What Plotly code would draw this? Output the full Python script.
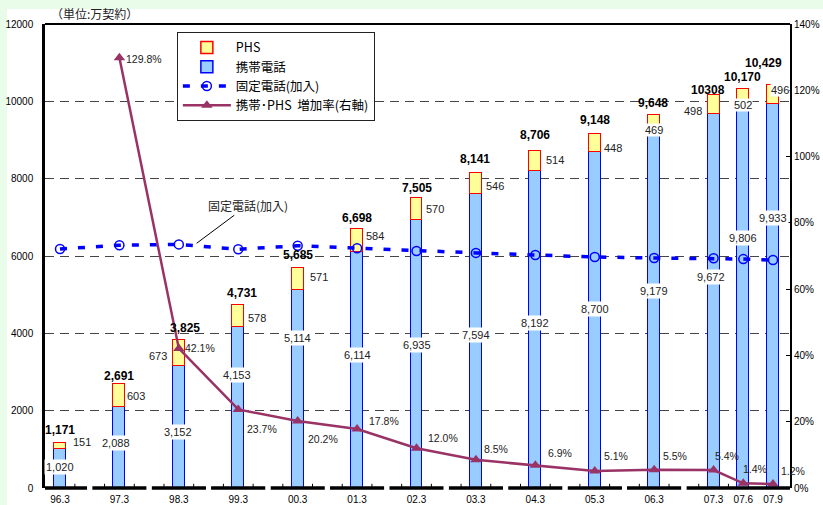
import plotly.graph_objects as go

# ---------------- data ----------------
periods = ["96.3", "97.3", "98.3", "99.3", "00.3", "01.3", "02.3", "03.3",
           "04.3", "05.3", "06.3", "07.3", "07.6", "07.9"]
mobile = [1020, 2088, 3152, 4153, 5114, 6114, 6935, 7594, 8192, 8700, 9179, 9672, 9806, 9933]
phs = [151, 603, 673, 578, 571, 584, 570, 546, 514, 448, 469, 498, 502, 496]
total_labels = ["1,171", "2,691", "3,825", "4,731", "5,685", "6,698", "7,505", "8,141",
                "8,706", "9,148", "9,648", "10308", "10,170", "10,429"]
fixed = [6180, 6280, 6300, 6175, 6265, 6200, 6130, 6080, 6025, 5975, 5950, 5940, 5920, 5895]
growth = [None, 129.8, 42.1, 23.7, 20.2, 17.8, 12.0, 8.5, 6.9, 5.1, 5.5, 5.4, 1.4, 1.2]
left_ticks = [0, 2000, 4000, 6000, 8000, 10000, 12000]
right_ticks = [0, 20, 40, 60, 80, 100, 120, 140]

# category positions: one step per year, half step per quarter
xpos = [0.0]
for a, b in zip(periods[:-1], periods[1:]):
    ya, ma = map(int, a.split("."))
    yb, mb = map(int, b.split("."))
    months = ((yb - ya) % 100) * 12 + (mb - ma)
    xpos.append(xpos[-1] + (1.0 if months >= 12 else 0.5))

# label offsets (pixels) - layout only
tot_dx = [0, 0, 6, 4, 0, 0, 0, -1, 0, 0, -1, -6, -1, -10]
tot_dy = [13, 8, 12, 12, 13, 11, 10, 14, 16, 14, 12, 5, 12, 22]
phs_dx = [22, 17, -21, 19, 21, 18, 18, 19, 20, 18, 0, -21, 0, 7]
phs_dy = [4, 0, -3, -2, 2, 4, 0, -2, 1, -5, -6, -7, -6, 4]
mob_dx = [0, -3, -1, -1, 0, 0, 0, 0, 0, 0, 0, -3, 0, 0]
mob_dy = [1, 5, -5, 33, 51, 15, 9, 6, 7, 11, 20, 24, 60, 78]
gr_dx = [0, 25, 21, 24, 25, 27, 26, 20, 25, 21, 21, 13, 12, 20]
gr_dy = [0, -1, 0, -20, -18, 8, 10, 11, 12, 15, 14, 14, 14, 13]

FONT = "Liberation Sans, Arial, Noto Sans CJK JP, sans-serif"
JFONT = "Noto Sans CJK JP, Liberation Sans, sans-serif"

XMIN, XMAX = -0.2525, 12.286

fig = go.Figure()
fig.add_trace(go.Bar(
    x=xpos, y=mobile, name="携帯電話", width=0.2, legendrank=2,
    marker=dict(color="#99ccff", line=dict(color="#0000ff", width=1.5)),
    hoverinfo="skip"))
fig.add_trace(go.Bar(
    x=xpos, y=phs, name="PHS", width=0.2, legendrank=1,
    marker=dict(color="#ffff99", line=dict(color="#ff0000", width=1.5)),
    hoverinfo="skip"))
fig.add_trace(go.Scatter(
    x=xpos, y=fixed, name="固定電話(加入)", mode="lines+markers", legendrank=3,
    line=dict(color="#0000ff", width=3.5, dash="7px,11px"),
    marker=dict(symbol="circle-open", size=9, color="#0000ff", line=dict(width=1.5))))
fig.add_trace(go.Scatter(
    x=xpos, y=growth, name="携帯･PHS  増加率(右軸)", mode="lines+markers", legendrank=4,
    yaxis="y2", line=dict(color="#993366", width=2.5),
    marker=dict(symbol="triangle-up", size=10, color="#993366")))

ann = []
for i, x in enumerate(xpos):
    tot = mobile[i] + phs[i]
    ann.append(dict(x=x, y=tot, xref="x", yref="y", text="<b>%s</b>" % total_labels[i],
                    showarrow=False, xshift=tot_dx[i], yshift=tot_dy[i],
                    font=dict(family=FONT, size=12, color="#000")))
    ann.append(dict(x=x, y=mobile[i] + phs[i] / 2, xref="x", yref="y",
                    text="{:,}".format(phs[i]), showarrow=False,
                    xshift=phs_dx[i], yshift=phs_dy[i], bgcolor="white", borderpad=0,
                    font=dict(family=FONT, size=11, color="#222")))
    ann.append(dict(x=x, y=mobile[i] / 2, xref="x", yref="y",
                    text="{:,}".format(mobile[i]), showarrow=False,
                    xshift=mob_dx[i], yshift=mob_dy[i], bgcolor="white", borderpad=1,
                    font=dict(family=FONT, size=11, color="#222")))
    if growth[i] is not None:
        ann.append(dict(x=x, y=growth[i], xref="x", yref="y2",
                        text="%.1f%%" % growth[i], showarrow=False,
                        xshift=gr_dx[i], yshift=gr_dy[i],
                        font=dict(family=FONT, size=10.5, color="#222")))

ann.append(dict(x=2.3, y=6330, xref="x", yref="y", text="固定電話(加入)",
                showarrow=True, arrowhead=0, arrowwidth=1, arrowcolor="#000",
                ax=51, ay=-38, font=dict(family=JFONT, size=12, color="#222")))
ann.append(dict(x=0.0658, y=1.0216, xref="paper", yref="paper", text="（単位:万契約）",
                xanchor="center", yanchor="middle",
                showarrow=False, font=dict(family=JFONT, size=12, color="#222")))

shapes = []
# white chart area on green page
shapes.append(dict(type="rect", xref="paper", yref="paper", x0=-0.051, x1=1.05,
                   y0=-0.05, y1=1.0323, fillcolor="white", line=dict(width=0), layer="below"))
# top border
shapes.append(dict(type="line", xref="paper", yref="paper", x0=0, x1=1, y0=1, y1=1,
                   line=dict(color="#000", width=2)))
# segmented bottom axis
gaps = [k + 0.5 for k in range(11)]
starts = [XMIN] + [g + 0.042 for g in gaps]
ends = [g - 0.042 for g in gaps] + [XMAX]
for s, e in zip(starts, ends):
    shapes.append(dict(type="rect", xref="x", yref="paper", x0=s, x1=e,
                       y0=-0.004, y1=0.004, fillcolor="#000", line=dict(width=0)))
for g in gaps:
    shapes.append(dict(type="rect", xref="x", yref="paper", x0=g - 0.042, x1=g + 0.042,
                       y0=-0.004, y1=0.006, fillcolor="white", line=dict(width=0)))
tick_pos = [k + f for k in range(11) for f in (0.25, 0.75)] + [11.25]
for t in tick_pos:
    shapes.append(dict(type="line", xref="x", yref="paper", x0=t, x1=t, y0=0, y1=0.009,
                       line=dict(color="#000", width=1)))

fig.update_layout(
    width=823, height=505,
    margin=dict(l=45, r=33, t=24, b=17),
    paper_bgcolor="#e9fce9", plot_bgcolor="white",
    barmode="stack", bargap=0,
    font=dict(family=FONT, size=10, color="#000"),
    showlegend=True,
    legend=dict(x=0.177, y=0.983, xanchor="left", yanchor="top", traceorder="normal",
                bgcolor="white", bordercolor="#222", borderwidth=1,
                font=dict(family=JFONT, size=12.5, color="#000"),
                tracegroupgap=0, itemwidth=48),
    xaxis=dict(range=[XMIN, XMAX], tickvals=xpos, ticktext=periods, automargin=False,
               showgrid=False, zeroline=False, showline=False, ticks="",
               ticklabelstandoff=4,
               tickfont=dict(family=FONT, size=10, color="#000")),
    yaxis=dict(range=[0, 12000], tickvals=left_ticks, tickformat="d", showgrid=True,
               automargin=False,
               gridcolor="#444", gridwidth=1, griddash="9px,6px",
               zeroline=False, showline=True, linecolor="#000", linewidth=2.5,
               ticks="outside", ticklen=7, tickcolor="rgba(0,0,0,0)",
               tickfont=dict(family=FONT, size=10, color="#000")),
    yaxis2=dict(range=[0, 140], tickvals=right_ticks, automargin=False,
                ticktext=["%d%%" % v for v in right_ticks], overlaying="y", side="right",
                showgrid=False, zeroline=False, showline=True, linecolor="#000",
                linewidth=2, ticks="inside", ticklen=4, tickcolor="#000",
                tickfont=dict(family=FONT, size=10, color="#000")),
    annotations=ann, shapes=shapes,
)

fig.write_html("out.html")
